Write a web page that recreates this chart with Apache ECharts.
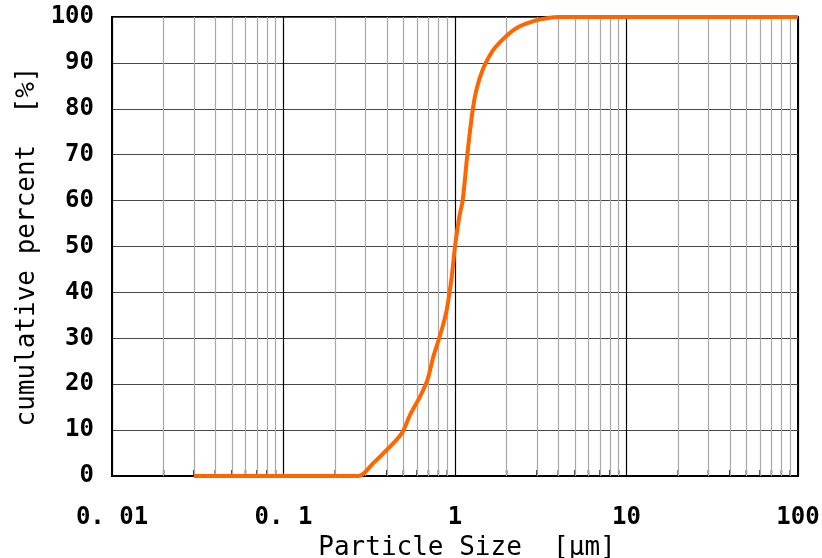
<!DOCTYPE html>
<html>
<head>
<meta charset="utf-8">
<script src="https://cdn.jsdelivr.net/npm/echarts@6/dist/echarts.min.js"></script>
<style>html,body{margin:0;padding:0;background:#fff;}#c{width:822px;height:558px;}</style>
</head>
<body>
<div id="c"></div>
<script>
// Particle size [µm]
const sizes = [0.03, 0.273, 0.334, 0.408, 0.489, 0.547, 0.625, 0.69, 0.748, 0.836, 0.895, 0.957, 1.0, 1.06, 1.109, 1.18, 1.26, 1.33, 1.45, 1.6, 1.72, 2.0, 2.34, 2.93, 3.5, 4.0, 100];
// Cumulative percent [%]
const cumulative = [0, 0, 2.8, 6.0, 9.3, 13.3, 17.3, 20.9, 26.0, 31.8, 36.2, 43.4, 50.0, 56.5, 60.1, 70.0, 79.0, 84.0, 88.5, 91.7, 93.4, 95.9, 97.8, 99.2, 99.8, 100, 100];
// minor log grid positions
const minorValues = [];
[0.01, 0.1, 1, 10].forEach(d => { for (let k = 2; k <= 9; k++) minorValues.push(+(d * k).toPrecision(6)); });
const xTickLabels = {0.01: '0. 01', 0.1: '0. 1', 1: '1', 10: '10', 100: '100'};

const chart = echarts.init(document.getElementById('c'));
const monoFont = 'DejaVu Sans Mono';
chart.setOption({
  animation: false,
  backgroundColor: '#ffffff',
  grid: {left: 112, right: 24, top: 17, bottom: 82, outerBoundsMode: 'none', containLabel: false,
    show: true, borderColor: '#000', borderWidth: 2, backgroundColor: 'transparent'},
  xAxis: {
    type: 'log', logBase: 10, min: 0.01, max: 100,
    name: 'Particle Size  [μm]', nameLocation: 'middle', nameGap: 49,
    nameTextStyle: {fontFamily: monoFont, fontSize: 26, color: '#000', padding: [0, 0, 0, 24]},
    axisLine: {show: true, lineStyle: {color: '#000', width: 2}},
    axisTick: {show: false},
    axisLabel: {margin: 30, fontFamily: monoFont, fontWeight: 'bold', fontSize: 24, color: '#000',
      formatter: v => { const r = +(+v).toPrecision(6); return xTickLabels[r] !== undefined ? xTickLabels[r] : String(r); }},
    splitLine: {show: true, lineStyle: {color: '#000', width: 1.2}}
  },
  yAxis: {
    type: 'value', min: 0, max: 100, interval: 10,
    name: 'cumulative percent  [%]', nameLocation: 'middle', nameRotate: 90, nameGap: 72,
    nameTextStyle: {fontFamily: monoFont, fontSize: 26, color: '#000'},
    axisLine: {show: true, lineStyle: {color: '#000', width: 2}},
    axisTick: {show: false},
    axisLabel: {margin: 18, fontFamily: monoFont, fontWeight: 'bold', fontSize: 24, color: '#000'},
    splitLine: {show: true, lineStyle: {color: '#484848', width: 1}}
  },
  series: [
    {
      type: 'line', data: [], silent: true,
      markLine: {
        silent: true, symbol: ['none', 'none'], label: {show: false},
        lineStyle: {color: '#a8a8a8', width: 1.2, type: 'solid'},
        animation: false,
        data: minorValues.map(v => ({xAxis: v}))
      },
      z: 1
    },
    {
      type: 'scatter', silent: true, z: 3,
      symbol: 'rect', symbolSize: [1.5, 6], symbolOffset: [0, -3],
      itemStyle: {color: '#000'},
      data: minorValues.map(v => [v, 0])
    },
    {
      type: 'line', z: 5, showSymbol: false, smooth: 0.3,
      lineStyle: {color: '#ff6600', width: 4},
      data: sizes.map((s, i) => [s, cumulative[i]])
    }
  ]
});
</script>
</body>
</html>
